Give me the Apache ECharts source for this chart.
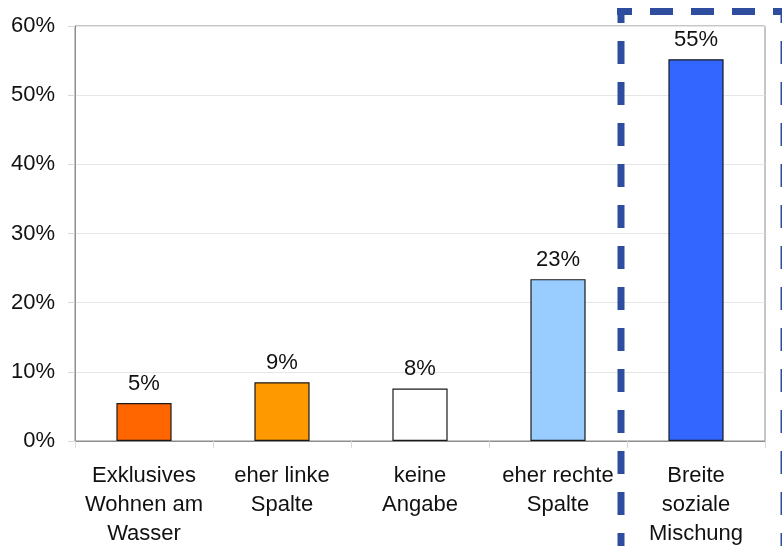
<!DOCTYPE html>
<html>
<head>
<meta charset="utf-8">
<script src="https://cdn.jsdelivr.net/npm/echarts@6/dist/echarts.min.js"></script>
<style>
html, body { margin: 0; padding: 0; background: #fff; }
#chart { width: 782px; height: 546px; }
</style>
</head>
<body>
<div id="chart"></div>
<script>
// Kategorien und Werte
var categories = ['Exklusives\nWohnen am\nWasser', 'eher linke\nSpalte', 'keine\nAngabe', 'eher rechte\nSpalte', 'Breite\nsoziale\nMischung'];
var values = [5.5, 8.5, 7.6, 23.4, 55.2];
var valueLabels = ['5%', '9%', '8%', '23%', '55%'];
var barColors = ['#ff6600', '#ff9900', '#ffffff', '#99ccff', '#3366ff'];
var yTicks = [0, 10, 20, 30, 40, 50, 60];

var font = '"Liberation Sans", Arial, sans-serif';
var chart = echarts.init(document.getElementById('chart'));

// gestrichelter Rahmen um "Breite soziale Mischung"
var dashStyle = { stroke: '#2e4d9e', lineWidth: 7, lineDash: [23, 18], lineDashOffset: 8 };
function dashLine(x1, y1, x2, y2) {
  return { type: 'line', silent: true, z: 100, shape: { x1: x1, y1: y1, x2: x2, y2: y2 }, style: dashStyle };
}

chart.setOption({
  animation: false,
  grid: {
    left: 75, right: 17, top: 26, bottom: 105,
    outerBoundsMode: 'none',
    show: true, borderColor: '#8c8c8c', borderWidth: 1
  },
  xAxis: {
    type: 'category',
    data: categories,
    axisLine: { lineStyle: { color: '#8c8c8c', width: 1 } },
    axisTick: { show: true, length: 7, lineStyle: { color: '#d8d8d8' } },
    axisLabel: {
      color: '#111', fontSize: 22, fontFamily: font,
      lineHeight: 29, margin: 20, interval: 0
    }
  },
  yAxis: {
    type: 'value',
    min: yTicks[0], max: yTicks[yTicks.length - 1], interval: 10,
    axisLine: { show: true, lineStyle: { color: '#8c8c8c', width: 1 } },
    axisTick: { show: true, length: 7, lineStyle: { color: '#d8d8d8' } },
    splitLine: { lineStyle: { color: '#e6e6e6', width: 1 } },
    axisLabel: {
      color: '#111', fontSize: 22, fontFamily: font, margin: 20,
      formatter: function (v) { return v + '%'; }
    }
  },
  series: [{
    type: 'bar',
    barWidth: '40%',
    data: values.map(function (v, i) {
      return { value: v, itemStyle: { color: barColors[i] } };
    }),
    itemStyle: { borderColor: '#1a1a1a', borderWidth: 1.2 },
    label: {
      show: true, position: 'top', distance: 8,
      color: '#111', fontSize: 22, fontFamily: font,
      formatter: function (p) { return valueLabels[p.dataIndex]; }
    }
  }],
  graphic: [
    dashLine(617, 11.5, 790, 11.5),
    dashLine(621, 8, 621, 600),
    dashLine(784, 8, 784, 600)
  ]
});
</script>
</body>
</html>
